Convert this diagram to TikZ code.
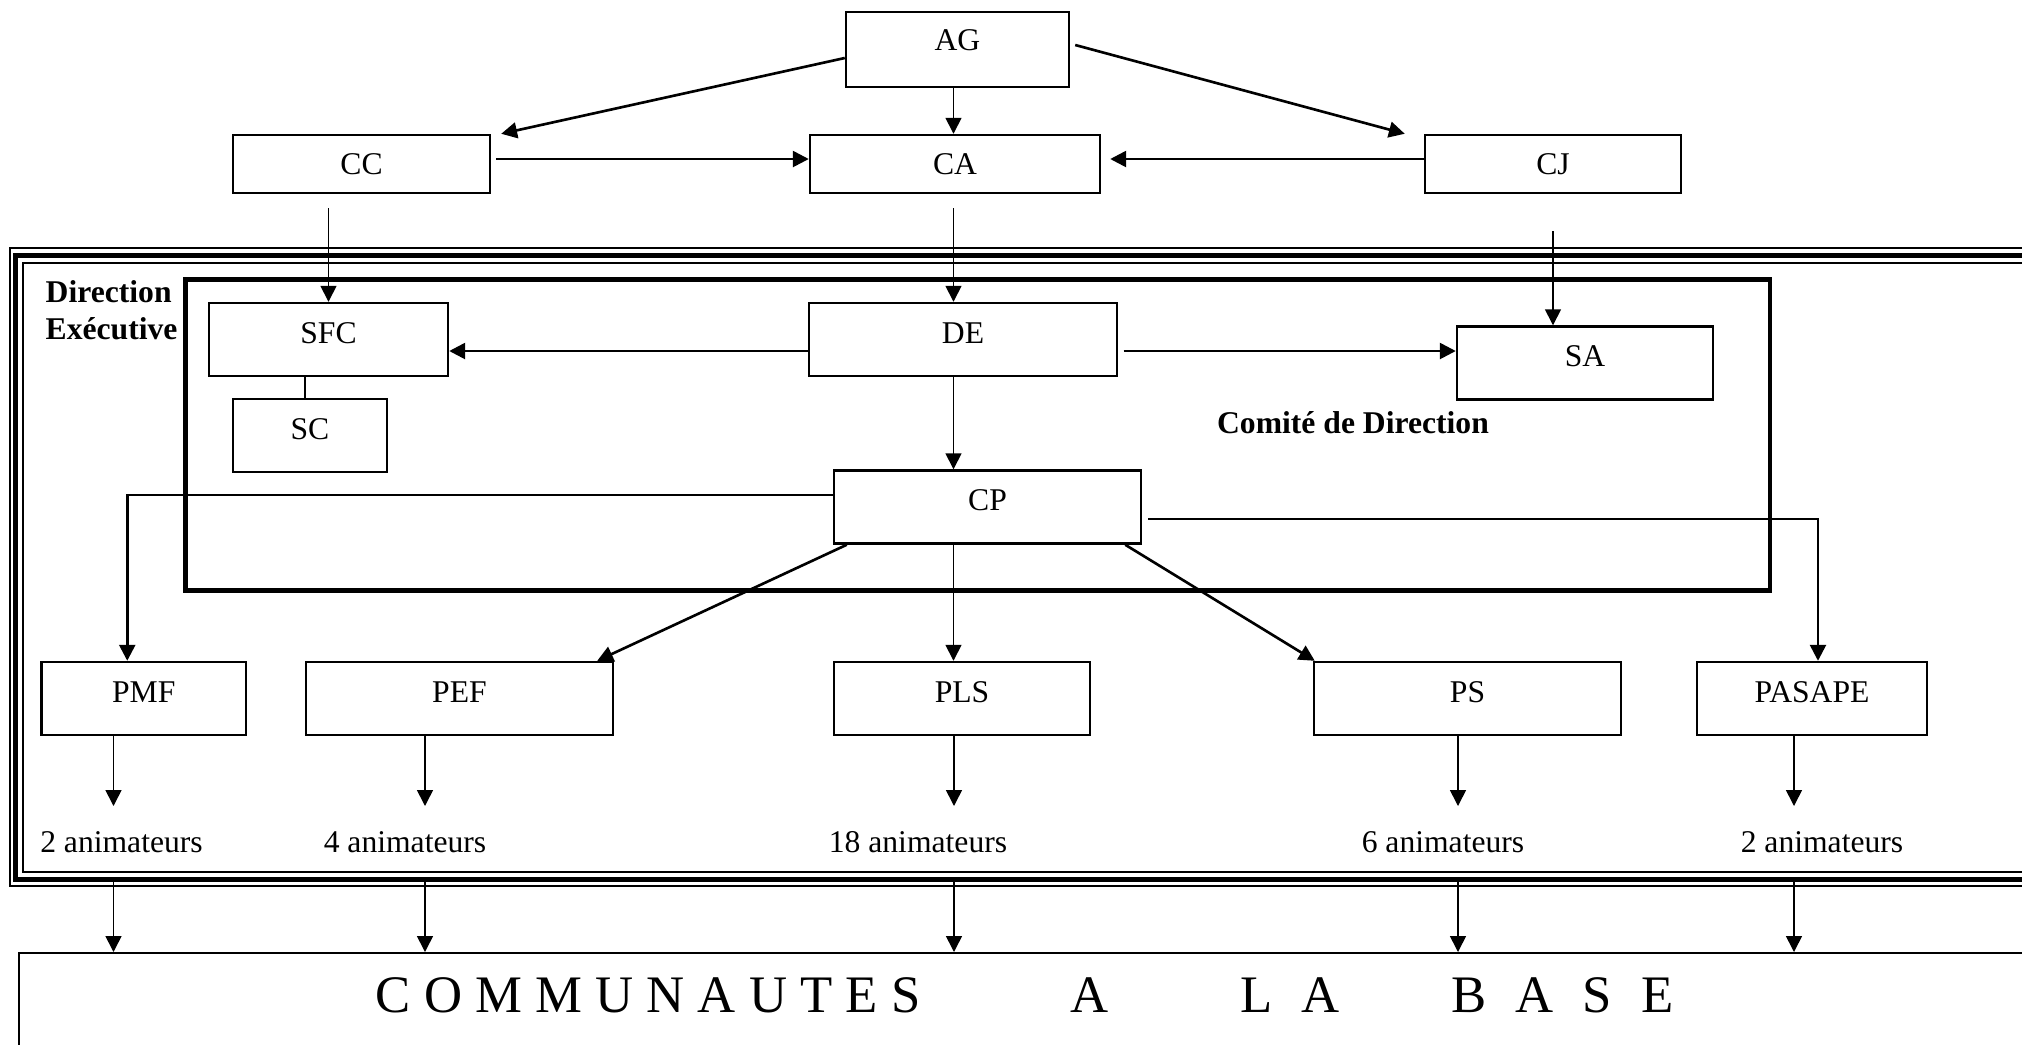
\documentclass[tikz,border=0pt]{standalone}
\usepackage{
	fontspec,			% Fonts
	tikz
}
\setmainfont{Liberation Serif}
\usetikzlibrary{arrows.meta}

\tikzset{
	box/.style={draw, line width=0.7pt, inner sep=0pt, text height=6.5pt, text depth=4.5pt, minimum height=0.73cm},
	conseil/.style={box, text depth=0.5pt, minimum height=0.58cm},
	titre/.style={font=\fontsize{9}{10.5}\selectfont\bfseries},
	link/.style={line width=0.45pt},
	linkthick/.style={line width=0.75pt}
}

\begin{document}
\begin{tikzpicture}[>={Triangle[length=4.5pt,width=4.5pt]}, font=\fontsize{9}{11}\selectfont]
		\useasboundingbox (0,0) rectangle (20.22,-10.44);
		\clip (0,0) rectangle (20.22,-10.44);
		\node[box, minimum width=2.23cm, minimum height=0.75cm, text depth=6pt] (AG) at (9.575,-0.495) {AG};
		\node[conseil, minimum width=2.57cm] (CC) at (3.615,-1.64) {CC};
		\node[conseil, minimum width=2.9cm] (CA) at (9.55,-1.64) {CA};
		\node[conseil, minimum width=2.56cm] (CJ) at (15.53,-1.64) {CJ};
		\draw[line width=0.4pt] (0.10,-2.48) rectangle (21,-8.86);
		\draw[line width=1.5pt] (0.155,-2.555) rectangle (21,-8.795);
		\draw[line width=0.5pt] (0.23,-2.63) rectangle (21,-8.72);
		\draw[line width=1.4pt] (1.855,-2.795) rectangle (17.70,-5.905);
		\node[titre, align=left, anchor=north west, inner sep=0pt] (direx) at (0.45,-2.80) {Direction\\Exécutive};
		\node[titre, anchor=base] (comite) at (13.53,-4.33) {Comité de Direction};
		\node[box, minimum width=2.39cm] (SFC) at (3.285,-3.395) {SFC};
		\node[box, minimum width=1.54cm] (SC) at (3.10,-4.355) {SC};
		\node[box, minimum width=3.08cm] (DE) at (9.63,-3.395) {DE};
		\node[box, minimum width=2.56cm] (SA) at (15.85,-3.63) {SA};
		\node[box, minimum width=3.07cm] (CP) at (9.875,-5.07) {CP};
		\node[box, minimum width=2.045cm] (PMF) at (1.4375,-6.985) {PMF};
		\node[box, minimum width=3.07cm] (PEF) at (4.595,-6.985) {PEF};
		\node[box, minimum width=2.56cm] (PLS) at (9.62,-6.985) {PLS};
		\node[box, minimum width=3.07cm] (PS) at (14.675,-6.985) {PS};
		\node[box, minimum width=2.30cm] (PASAPE) at (18.12,-6.985) {PASAPE};
		\node[draw, line width=0.6pt, anchor=north west, inner sep=0pt, minimum width=21cm, minimum height=2cm] (COM) at (0.18,-9.52) {};
		\node[font=\fontsize{15}{18}\selectfont, anchor=base west, inner sep=0pt] (comtxt) at (3.75,-10.12) {C O M M U N A U T E S\hspace{1.5cm}A\hspace{1.32cm}L\hspace{0.29cm}A\hspace{1.12cm}B\hspace{0.29cm}A\hspace{0.29cm}S\hspace{0.29cm}E};
		\coordinate (ccout) at ([yshift=-0.14cm]CC.south);
		\coordinate (caout) at ([yshift=-0.14cm,xshift=-0.015cm]CA.south);
		\coordinate (cjout) at ([yshift=-0.37cm]CJ.south);
		\coordinate (scin) at ([xshift=-0.05cm]SC.north);
		\draw[linkthick,->] ([yshift=-0.085cm]AG.west) -- ([xshift=0.1cm]CC.north east);
		\draw[linkthick,->] ([shift={(0.05,0.045)}]AG.east) -- ([xshift=-0.19cm]CJ.north west);
		\draw[link,->] (AG.south -| caout) -- (CA.north -| caout);
		\draw[linkthick,->] ([shift={(0.05,0.05)}]CC.east) -- ([yshift=0.05cm]CA.west);
		\draw[linkthick,->] ([yshift=0.05cm]CJ.west) -- ([shift={(0.09,0.05)}]CA.east);
		\draw[link,->] (ccout -| SFC.north) -- (SFC.north);
		\draw[link,->] (caout) -- (caout |- DE.north);
		\draw[link,->] (cjout) -- (cjout |- SA.north);
		\draw[link] (scin |- SFC.south) -- (scin);
		\draw[linkthick,->] ([yshift=-0.115cm]DE.west) -- ([yshift=-0.115cm]DE.west -| SFC.east);
		\draw[linkthick,->] ([shift={(0.055,-0.115)}]DE.east) -- ([yshift=-0.115cm]DE.east -| SA.west);
		\draw[link,->] (caout |- DE.south) -- (caout |- CP.north);
		\draw[linkthick,->] ([yshift=0.12cm]CP.west) -| ([xshift=-0.165cm]PMF.north);
		\draw[linkthick,->] ([shift={(0.06,-0.12)}]CP.east) -| ([xshift=0.06cm]PASAPE.north);
		\draw[linkthick,->] ([xshift=0.14cm]CP.south west) -- ([xshift=-0.17cm]PEF.north east);
		\draw[link,->] (caout |- CP.south) -- (caout |- PLS.north);
		\draw[linkthick,->] ([xshift=-0.17cm]CP.south east) -- ([xshift=0.02cm]PS.north west);
		\foreach \n/\ax/\t/\tx in {PMF/1.135/2 animateurs/1.215, PEF/4.25/4 animateurs/4.05, PLS/9.54/18 animateurs/9.18, PS/14.58/6 animateurs/14.43, PASAPE/17.94/2 animateurs/18.22}
		{
			\node[anchor=base] (n\n) at (\tx,-8.52) {\t};
			\coordinate (t\n) at (\ax,-8.06);
			\coordinate (b\n) at (\ax,-8.82);
			\draw[link,->] (\n.south -| t\n) -- (t\n);
			\draw[link,->] (b\n) -- (b\n |- COM.north);
		}
	\end{tikzpicture}
\end{document}
